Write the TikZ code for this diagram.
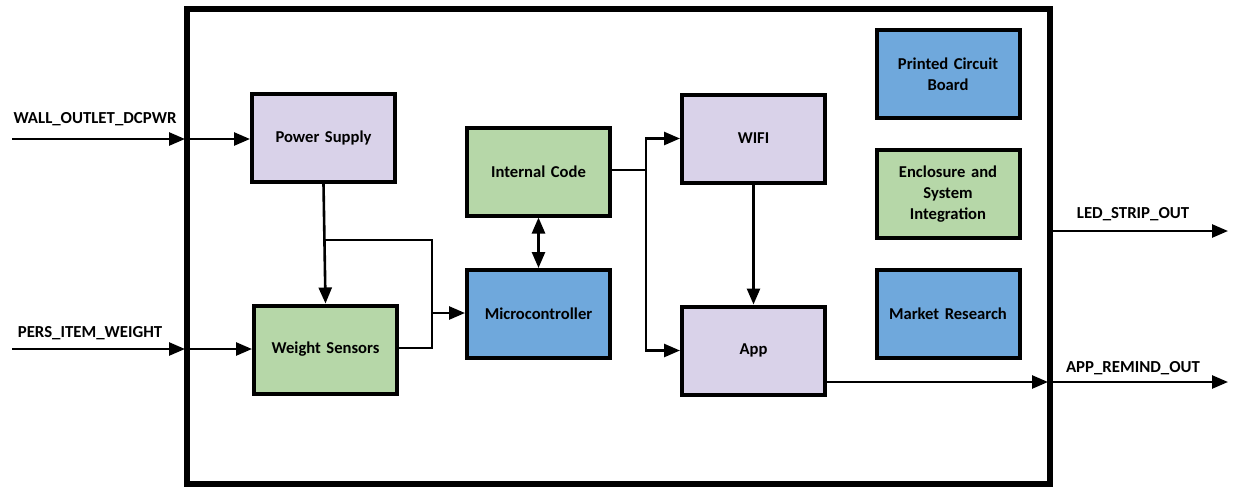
\documentclass[tikz,border=0pt]{standalone}
\usepackage{fontspec}
\setmainfont{Carlito}
\usetikzlibrary{arrows.meta}
\definecolor{lav}{HTML}{D9D2E9}
\definecolor{grn}{HTML}{B6D7A8}
\definecolor{blu}{HTML}{6FA8DC}
\tikzset{
  blk/.style={draw=black, line width=4pt, minimum width=143pt, minimum height=88pt,
    inner sep=2pt, align=center, font=\fontsize{16.6}{21}\selectfont\bfseries, text width=135pt},
  lavbox/.style={blk, fill=lav},
  grnbox/.style={blk, fill=grn},
  blubox/.style={blk, fill=blu},
  wire/.style={draw=black, line width=2.6pt},
  arr/.style={wire, -{Triangle[length=16pt,width=13pt]}},
  darr/.style={wire, {Triangle[length=16pt,width=13pt]}-{Triangle[length=16pt,width=13pt]}},
  sig/.style={font=\fontsize{16.8}{19}\selectfont\bfseries, inner sep=0pt}
}
\begin{document}
\begin{tikzpicture}[x=1pt,y=-1pt]
\useasboundingbox (0,0) rectangle (1238,488);
% frame
\draw[line width=5.5pt] (187,9) rectangle (1050,484);
% blocks
\node[lavbox] (ps) at (323.5,138) {Power Supply};
\node[grnbox] (ws) at (325.5,349.5) {Weight Sensors};
\node[grnbox] (ic) at (538.5,171.5) {Internal Code};
\node[blubox] (mc) at (538.5,314) {Microcontroller};
\node[lavbox] (wifi) at (753.5,138.5) {WIFI};
\node[lavbox] (app) at (753.5,350.5) {App};
\node[blubox] (pcb) at (948,74) {Printed Circuit\\Board};
\node[grnbox] (enc) at (948,194) {Enclosure and\\System\\Integration};
\node[blubox] (mr) at (948,314) {Market Research};
% coordinates
\coordinate (w0) at (12,139);
\coordinate (fl1) at (185,139);
\coordinate (fl1b) at (187,139);
\coordinate (p0) at (12,349);
\coordinate (fl2) at (185,349);
\coordinate (fl2b) at (187,349);
\coordinate (j1) at (325,240);
\coordinate (j3) at (432,348);
\coordinate (j4) at (432,313);
\coordinate (k1) at (646,170);
\coordinate (r1) at (1048,382);
\coordinate (r2) at (1052,382);
\coordinate (r3) at (1228,382);
\coordinate (l2) at (1052,231);
\coordinate (l3) at (1228,231);
% connectors
\draw[arr] (w0) -- (fl1);
\draw[arr] (fl1b) -- (ps.west |- fl1b);
\draw[arr] (p0) -- (fl2);
\draw[arr] (fl2b) -- (ws.west |- fl2b);
\draw[arr] (ps.south) -- (ws.north);
\draw[wire] (j1) -| (j3) -- (ws.east |- j3);
\draw[arr] (j4) -- (mc.west |- j4);
\draw[darr] (ic.south) -- (mc.north);
\draw[wire] (ic.east |- k1) -- (k1);
\draw[arr] (k1) |- (wifi.west);
\draw[arr] (k1) |- (app.west);
\draw[arr] (wifi.south) -- (app.north);
\draw[arr] (app.east |- r1) -- (r1);
\draw[arr] (r2) -- (r3);
\draw[arr] (l2) -- (l3);
% signal labels
\node[sig] (lw) at (95,119) {WALL\_OUTLET\_DCPWR};
\node[sig] (lp) at (90,333) {PERS\_ITEM\_WEIGHT};
\node[sig] (ll) at (1133,214) {LED\_STRIP\_OUT};
\node[sig] (la) at (1133,368) {APP\_REMIND\_OUT};
\end{tikzpicture}
\end{document}
